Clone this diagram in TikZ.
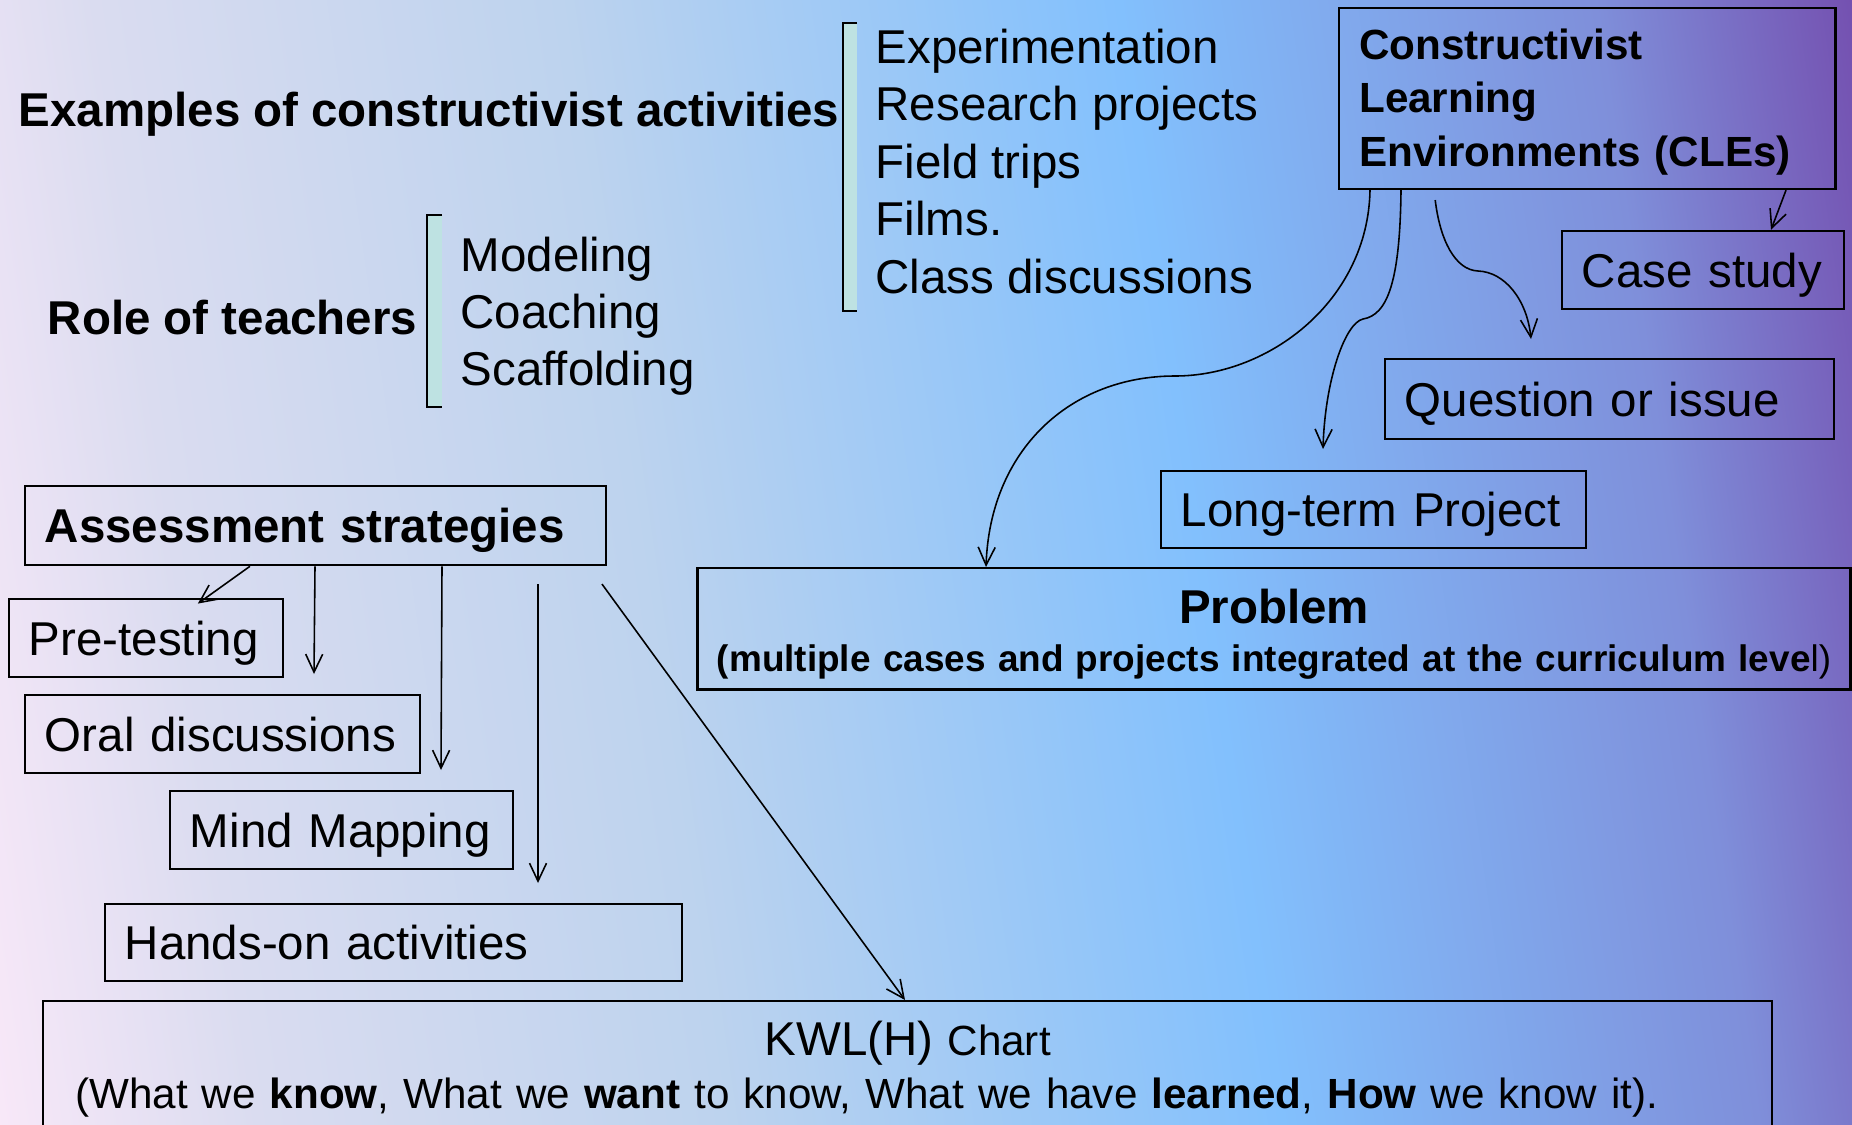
\documentclass[tikz,border=0pt]{standalone}
\usepackage{fontspec}
\setmainfont{Liberation Sans}
\usepackage{tikz}
\usetikzlibrary{arrows}
\usetikzlibrary{arrows.meta}
\newcommand{\fsmain}{\fontsize{13.5}{16.4}\selectfont}
\newcommand{\fscle}{\fontsize{12}{15.1}\selectfont}
\newcommand{\fssub}{\fontsize{10.5}{13.7}\selectfont}
\definecolor{bgA}{HTML}{F8E8F8}
\definecolor{bgB}{HTML}{DADCF0}
\definecolor{bgC}{HTML}{BDD3EE}
\definecolor{bgD}{HTML}{82C0FD}
\definecolor{bgE}{HTML}{7F8FDA}
\definecolor{bgF}{HTML}{7450B0}
\definecolor{brk}{HTML}{BEE2E2}
\pgfdeclarehorizontalshading{bgshade}{100bp}{color(0bp)=(bgA); color(21.6bp)=(bgA); color(28.9bp)=(bgB); color(42bp)=(bgC); color(57.7bp)=(bgD); color(71.1bp)=(bgE); color(78.4bp)=(bgF); color(100bp)=(bgF)}

\begin{document}
\begin{tikzpicture}[x=0.01cm, y=-0.01cm, every node/.style={font=\fsmain},
  box/.style={draw, line width=0.7pt, inner xsep=0.2cm, inner ysep=0pt, text height=0.34cm, text depth=0pt, align=left},
  arr/.style={->, line width=0.45pt},
  >={Straight Barb[length=0.18cm,width=0.17cm]}]
  \useasboundingbox (0,0) rectangle (1852,1124);
  \shade[shading=bgshade, shading angle=8.29] (0,0) rectangle (1852,1124); % background

  \fill[brk] (843,23) rectangle (857,311); % bracket activities
  \draw[line width=0.6pt] (857,23) -- (843,23) -- (843,311) -- (857,311);
  \fill[brk] (427,215) rectangle (442,407); % bracket teachers
  \draw[line width=0.6pt] (442,215) -- (427,215) -- (427,407) -- (442,407);

  \node[anchor=base east, inner sep=0pt, font=\fsmain\bfseries] (exa) at (840,126) {Examples of constructivist activities};
  \node[anchor=base east, inner sep=0pt, font=\fsmain\bfseries] (role) at (418,334) {Role of teachers};

  \node[anchor=base west, inner sep=0pt] (act1) at (875,63) {Experimentation};
  \node[anchor=base west, inner sep=0pt] (act2) at (875,120.5) {Research projects};
  \node[anchor=base west, inner sep=0pt] (act3) at (875,178) {Field trips};
  \node[anchor=base west, inner sep=0pt] (act4) at (875,235) {Films.};
  \node[anchor=base west, inner sep=0pt] (act5) at (875,293) {Class discussions};

  \node[anchor=base west, inner sep=0pt] (tch1) at (460,271) {Modeling};
  \node[anchor=base west, inner sep=0pt] (tch2) at (460,328) {Coaching};
  \node[anchor=base west, inner sep=0pt] (tch3) at (460,385) {Scaffolding};

  \node[box, text width=5.41cm, minimum height=0.79cm, font=\fsmain\bfseries] (asm) at (315.5,525.5) {Assessment strategies};
  \node[box, text width=2.34cm, minimum height=0.78cm] (pre) at (146,638) {Pre-testing};
  \node[box, text width=3.55cm, minimum height=0.78cm] (oral) at (222.5,734) {Oral discussions};
  \node[box, text width=3.03cm, minimum height=0.78cm] (mind) at (341.5,830) {Mind Mapping};
  \node[box, text width=5.37cm, minimum height=0.77cm] (hands) at (393.5,942.5) {Hands-on activities};

  \node[box, text width=2.42cm, minimum height=0.78cm] (cs) at (1703,270) {Case study};
  \node[box, text width=4.09cm, minimum height=0.80cm] (qs) at (1609.5,399) {Question or issue};
  \node[box, text width=3.85cm, minimum height=0.77cm] (lt) at (1373.5,509.5) {Long-term Project};

  \node[draw, line width=0.7pt, anchor=north west, inner xsep=0.2cm, inner ysep=0.21cm, text width=4.56cm, text depth=1.08cm, align=left, font=\fscle\bfseries] (cle) at (1338,7) {Constructivist\\ Learning\\ Environments (CLEs)};
  \node[draw, line width=0.7pt, anchor=north, inner xsep=0.11cm, inner ysep=0.21cm, text width=11.3cm, text depth=0.45cm, align=center, font=\fssub] (prb) at (1274,567) {{\fsmain\bfseries Problem}\\ \textbf{(multiple cases and projects integrated at the curriculum leve}l)};
  \node[draw, line width=0.7pt, anchor=north west, inner xsep=0.32cm, inner ysep=0.2cm, text width=16.64cm, align=left, font=\fscle] (kwl) at (42,1000) {\makebox[\linewidth]{{\fsmain KWL(H)} Chart}\\ (What we \textbf{know}, What we \textbf{want} to know, What we have \textbf{learned}, \textbf{How} we know it).};

  \coordinate (oraltip) at (314,674);
  \coordinate (mindtip) at (441,770);
  \coordinate (handtip) at (538,883);
  \coordinate (qstip) at (1531,339);
  \coordinate (lttip) at (1323,449);

  \draw[arr, shorten >=-0.1cm] (250,0 |- asm.south) -- (206,0 |- pre.north);
  \draw[arr] (315,0 |- asm.south) -- (oraltip);
  \draw[arr] (442,0 |- asm.south) -- (mindtip);
  \draw[arr, shorten <=0.18cm] (538,0 |- asm.south) -- (handtip);
  \draw[arr, shorten <=0.22cm] (589,0 |- asm.south) -- (905,0 |- kwl.north);

  \draw[arr] (1786,0 |- cle.south) -- (1771,0 |- cs.north);
  \draw[arr, shorten <=0.1cm] (1434,0 |- cle.south) .. controls (1440,240) and (1455,270) .. (1478,271) .. controls (1505,272) and (1527,300) .. (qstip);
  \draw[arr] (1401,0 |- cle.south) .. controls (1400,280) and (1388,315) .. (1363,319) .. controls (1345,323) and (1325,380) .. (lttip);
  \draw[arr] (1370,0 |- cle.south) .. controls (1368,300) and (1270,376) .. (1175,376) .. controls (1070,376) and (990,450) .. (986,0 |- prb.north);
  %\draw[arr] (cle.south) -- (prb.north);
\end{tikzpicture}
\end{document}
